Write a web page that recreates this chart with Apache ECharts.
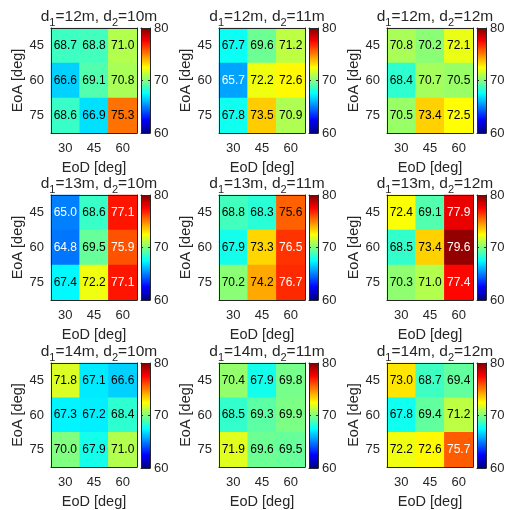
<!DOCTYPE html>
<html>
<head>
<meta charset="utf-8">
<script src="https://cdn.jsdelivr.net/npm/echarts@6/dist/echarts.min.js"></script>
<style>
  html, body { margin: 0; padding: 0; background: #fff; }
  #chart { width: 510px; height: 510px; }
</style>
</head>
<body>
<div id="chart"></div>
<script>
// Axis categories
const eodLabels = ['30', '45', '60'];   // columns
const eoaLabels = ['45', '60', '75'];   // rows, top to bottom
const d1Values = [12, 13, 14];          // panel rows
const d2Values = [10, 11, 12];          // panel columns
const colorbarTicks = [60, 70, 80];

// Values per panel: rows = EoA 45/60/75, cols = EoD 30/45/60
const d1_12_d2_10 = [[68.7, 68.8, 71.0], [66.6, 69.1, 70.8], [68.6, 66.9, 75.3]];
const d1_12_d2_11 = [[67.7, 69.6, 71.2], [65.7, 72.2, 72.6], [67.8, 73.5, 70.9]];
const d1_12_d2_12 = [[70.8, 70.2, 72.1], [68.4, 70.7, 70.5], [70.5, 73.4, 72.5]];
const d1_13_d2_10 = [[65.0, 68.6, 77.1], [64.8, 69.5, 75.9], [67.4, 72.2, 77.1]];
const d1_13_d2_11 = [[68.8, 68.3, 75.6], [67.9, 73.3, 76.5], [70.2, 74.2, 76.7]];
const d1_13_d2_12 = [[72.4, 69.1, 77.9], [68.5, 73.4, 79.6], [70.3, 71.0, 77.4]];
const d1_14_d2_10 = [[71.8, 67.1, 66.6], [67.3, 67.2, 68.4], [70.0, 67.9, 71.0]];
const d1_14_d2_11 = [[70.4, 67.9, 69.8], [68.5, 69.3, 69.9], [71.9, 69.6, 69.5]];
const d1_14_d2_12 = [[73.0, 68.7, 69.4], [67.8, 69.4, 71.2], [72.2, 72.6, 75.7]];

const panels = [
  d1_12_d2_10, d1_12_d2_11, d1_12_d2_12,
  d1_13_d2_10, d1_13_d2_11, d1_13_d2_12,
  d1_14_d2_10, d1_14_d2_11, d1_14_d2_12
];

// Jet colormap, low to high
const jet = ['#000080', '#0000ff', '#0080ff', '#00ffff', '#80ff80',
             '#ffff00', '#ff8000', '#ff0000', '#800000'];
const cMin = 60, cMax = 80;

// Layout
const FONT = 'Liberation Sans, Arial, Helvetica, sans-serif';
const TXT = '#262626';
const colLeft = [51, 219, 387];
const rowTop = [28, 195, 363];
const boxW = 86, boxH = 105;
const cbGap = 4, cbW = 9;

const grids = [], xAxes = [], yAxes = [], series = [], titles = [];
const heatIdx = [];

panels.forEach((vals, p) => {
  const r = Math.floor(p / 3), c = p % 3;
  const left = colLeft[c], top = rowTop[r];

  // heatmap grid
  const gi = grids.length;
  grids.push({ left: left, top: top, width: boxW, height: boxH });
  xAxes.push({
    gridIndex: gi, type: 'category', data: eodLabels, position: 'bottom', z: 10,
    name: 'EoD [deg]', nameLocation: 'middle', nameGap: 27,
    nameTextStyle: { fontFamily: FONT, fontSize: 14.5, color: TXT },
    axisLine: { show: true, lineStyle: { color: TXT, width: 1 } },
    axisTick: { show: false }, splitLine: { show: false },
    axisLabel: { fontFamily: FONT, fontSize: 13, color: TXT, margin: 9 }
  });
  xAxes.push({
    gridIndex: gi, type: 'category', data: eodLabels, position: 'top', z: 10,
    axisLine: { show: true, lineStyle: { color: TXT, width: 1 } },
    axisTick: { show: false }, axisLabel: { show: false }, splitLine: { show: false }
  });
  yAxes.push({
    gridIndex: gi, type: 'category', data: eoaLabels, inverse: true, position: 'left', z: 10,
    name: 'EoA [deg]', nameLocation: 'middle', nameGap: 22, nameRotate: 90,
    nameTextStyle: { fontFamily: FONT, fontSize: 14.5, color: TXT },
    axisLine: { show: true, lineStyle: { color: TXT, width: 1 } },
    axisTick: { show: false }, splitLine: { show: false },
    axisLabel: { fontFamily: FONT, fontSize: 13, color: TXT, margin: 7 }
  });
  yAxes.push({
    gridIndex: gi, type: 'category', data: eoaLabels, inverse: true, position: 'right', z: 10,
    axisLine: { show: true, lineStyle: { color: TXT, width: 1 } },
    axisTick: { show: false }, axisLabel: { show: false }, splitLine: { show: false }
  });

  const data = [];
  vals.forEach((row, yi) => {
    row.forEach((v, xi) => {
      const light = v < 66 || v > 75.65;
      data.push({ value: [xi, yi, v], label: { color: light ? '#ffffff' : '#000000' } });
    });
  });
  heatIdx.push(series.length);
  series.push({
    type: 'heatmap', xAxisIndex: xAxes.length - 2, yAxisIndex: yAxes.length - 2,
    data: data,
    label: {
      show: true, fontFamily: FONT, fontSize: 12,
      formatter: (prm) => prm.value[2].toFixed(1)
    },
    itemStyle: { borderWidth: 0 },
    emphasis: { disabled: true }
  });

  // colorbar grid
  const ci = grids.length;
  grids.push({ left: left + boxW + cbGap, top: top, width: cbW, height: boxH });
  xAxes.push({
    gridIndex: ci, type: 'category', data: ['cb'], position: 'bottom', z: 10,
    axisLine: { show: true, lineStyle: { color: TXT, width: 1 } },
    axisTick: { show: false }, axisLabel: { show: false }, splitLine: { show: false }
  });
  xAxes.push({
    gridIndex: ci, type: 'category', data: ['cb'], position: 'top', z: 10,
    axisLine: { show: true, lineStyle: { color: TXT, width: 1 } },
    axisTick: { show: false }, axisLabel: { show: false }, splitLine: { show: false }
  });
  yAxes.push({
    gridIndex: ci, type: 'value', min: cMin, max: cMax, interval: 10, position: 'right', z: 10,
    axisLine: { show: true, lineStyle: { color: TXT, width: 1 } },
    axisTick: { show: true, inside: true, length: 2, lineStyle: { color: TXT } },
    splitLine: { show: false },
    axisLabel: { fontFamily: FONT, fontSize: 13, color: TXT, margin: 4,
                 formatter: (v) => colorbarTicks.includes(v) ? String(v) : '' }
  });
  yAxes.push({
    gridIndex: ci, type: 'value', min: cMin, max: cMax, interval: 10, position: 'left', z: 10,
    axisLine: { show: true, lineStyle: { color: TXT, width: 1 } },
    axisTick: { show: true, inside: true, length: 2, lineStyle: { color: TXT } },
    splitLine: { show: false }, axisLabel: { show: false }
  });
  series.push({
    type: 'custom', xAxisIndex: xAxes.length - 2, yAxisIndex: yAxes.length - 2,
    data: [[0, cMin, cMax]],
    silent: true,
    renderItem: (params, api) => {
      const top = api.coord([api.value(0), api.value(2)]);
      const bot = api.coord([api.value(0), api.value(1)]);
      const w = api.size([1, 0])[0];
      const stops = jet.map((col, i) => ({ offset: 1 - i / (jet.length - 1), color: col }));
      return {
        type: 'rect',
        shape: { x: top[0] - w / 2, y: top[1], width: w, height: bot[1] - top[1] },
        style: { fill: new echarts.graphic.LinearGradient(0, 0, 0, 1, stops.reverse()) }
      };
    }
  });

  // panel title with subscripts
  titles.push({
    left: left + boxW / 2, top: top - 24, textAlign: 'center',
    text: '{a|d}{s|1}{a|=' + d1Values[r] + 'm, d}{s|2}{a|=' + d2Values[c] + 'm}',
    textStyle: {
      fontWeight: 'normal',
      rich: {
        a: { fontFamily: FONT, fontSize: 15.5, fontWeight: 'normal', color: TXT, lineHeight: 19, verticalAlign: 'top' },
        s: { fontFamily: FONT, fontSize: 11, fontWeight: 'normal', color: TXT, lineHeight: 19, verticalAlign: 'bottom', padding: [8, 0, 0, 0] }
      }
    }
  });
});

const chart = echarts.init(document.getElementById('chart'), null, { renderer: 'canvas' });
chart.setOption({
  backgroundColor: '#ffffff',
  animation: false,
  title: titles,
  grid: grids,
  xAxis: xAxes,
  yAxis: yAxes,
  visualMap: {
    show: false, type: 'continuous', min: cMin, max: cMax, dimension: 2,
    seriesIndex: heatIdx, inRange: { color: jet }
  },
  series: series
});
</script>
</body>
</html>
